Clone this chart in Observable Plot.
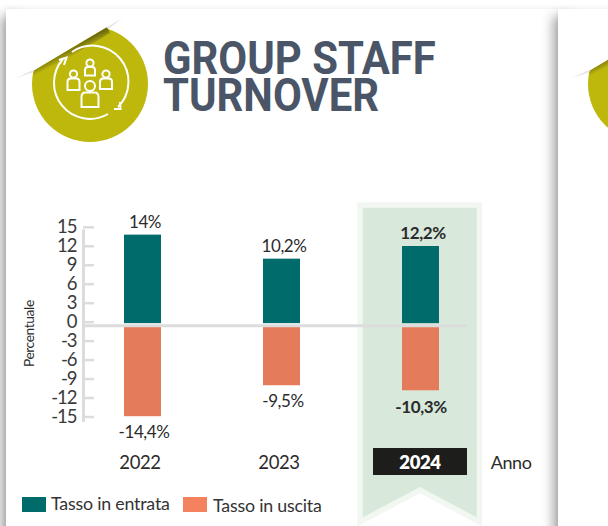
<!DOCTYPE html>
<html><head><meta charset="utf-8">
<script src="https://cdn.jsdelivr.net/npm/d3@7"></script>
<script src="https://cdn.jsdelivr.net/npm/@observablehq/plot@0.6"></script>
<style>
html,body{margin:0;padding:0;background:#fff;width:608px;height:526px;overflow:hidden;font-family:Lato,sans-serif;color:#2a2a2a}
#page{position:relative;width:608px;height:526px;overflow:hidden;background:#fff}
.edge{position:absolute;top:16px;height:560px;width:20px;box-shadow:-5px 0 12px rgba(0,0,0,.34)}
.card{position:absolute;top:9px;height:560px;background:#fff;box-shadow:0 -1px 5px rgba(0,0,0,.07)}
#deco,#chart{position:absolute;left:0;top:0}
#chart svg{display:block;background:transparent;overflow:visible}
#chart g[aria-label="y-axis tick label"] text{letter-spacing:-1px}
#chart g[aria-label="text"] text{letter-spacing:-.4px}
#title{position:absolute;left:163px;top:39.500px;font:700 46px/37.500px Roboto,sans-serif;color:#4a5567;margin:0;transform:scaleX(.91);transform-origin:0 0;white-space:nowrap}
.leg{position:absolute;white-space:nowrap;font-size:17.800px;color:#333;letter-spacing:-.2px}
.sw{position:absolute;width:24px;height:15px}
</style></head><body>
<div id="page">
<div class="edge" style="left:6px"></div>
<div class="card" style="left:6px;width:552px"></div>
<div class="edge" style="left:558px"></div>
<div class="card" style="left:558px;width:300px"></div>
<svg id="deco" width="608" height="526" viewBox="0 0 608 526">
<defs>
<clipPath id="cut"><path d="M0 96 L33 71 L107 27 L230 -40 L230 200 L0 200Z"/></clipPath>
<linearGradient id="fold" gradientUnits="userSpaceOnUse" x1="70" y1="48" x2="74" y2="56"><stop offset="0" stop-color="#6e6a10"/><stop offset="1" stop-color="#bfb80c"/></linearGradient>
<g id="sticker">
<circle cx="90" cy="84" r="58" fill="#bfb80c" clip-path="url(#cut)"/>
<path d="M33 71 L107 27 L110 33 L34 79Z" fill="url(#fold)" clip-path="url(#cut)"/>
<path d="M16 78 L33 70 L34 72Z M107 27 L123 18 L108 29Z" fill="#e4e4e4"/>
</g>
</defs>
<use href="#sticker"/><use href="#sticker" x="556"/>
<g fill="none" stroke="#fff" stroke-width="2">
<path d="M72 52 A36 36 0 0 1 118 107 M108 114 A36 36 0 0 1 63 59"/>
<path d="M59 60 L66.500 57.500 L64 65 M114 109 L120.500 109 L120 102"/>
<circle cx="90" cy="63" r="3.600"/><path d="M85 75.500V70q0-3 3-3h4q3 0 3 3v5.500z"/>
<circle cx="73.500" cy="74" r="3.600"/><path d="M67.500 90V82q0-3.500 3-3.500h6q3 0 3 3.500v8z"/>
<circle cx="106" cy="74" r="3.600"/><path d="M100 89V82q0-3.500 3-3.500h6q3 0 3 3.500v7z"/>
<circle cx="90" cy="86" r="5" fill="#bfb80c"/><path d="M81.500 107V97q0-4.500 4-4.500h9q4 0 4 4.500v10z" fill="#bfb80c"/>
</g>
<path d="M360 205 H479.500 V522 L420 490 L360 522Z" fill="#d8e9dc" stroke="#f2f7f2" stroke-width="5.500"/>
<rect x="373" y="448" width="94" height="27" fill="#1d1d1b"/>
</svg>
<div id="chart"></div>
<h1 id="title">GROUP STAFF<br>TURNOVER</h1>
<div class="sw" style="left:22px;top:497px;background:#006b6b"></div>
<div class="leg" style="left:51px;top:492px">Tasso in entrata</div>
<div class="sw" style="left:183px;top:497px;background:#f4825f"></div>
<div class="leg" style="left:213px;top:494px">Tasso in uscita</div>
</div>
<script>
const years = ["2022", "2023", "2024"];
const entrata = [14, 10.2, 12.2];
const uscita = [-14.4, -9.5, -10.3];
const yTicks = [15, 12, 9, 6, 3, 0, -3, -6, -9, -12, -15];
const highlightYear = "2024";
const axisNameX = "Anno";
const axisNameY = "Percentuale";

const fmt = v => String(v).replace(".", ",") + "%";
const inRows = years.map((year, i) => ({year, value: entrata[i]}));
const outRows = years.map((year, i) => ({year, value: uscita[i]}));
const plain = r => r.year !== highlightYear;
const strong = r => r.year === highlightYear;
const ink = "#2b2b2b", axisGrey = "#dcdcdc";
const fam = "Lato, sans-serif";

const chart = Plot.plot({
  width: 608, height: 526,
  marginTop: 230.3, marginBottom: 106, marginLeft: 83, marginRight: 141,
  style: {background: "transparent", fontFamily: fam},
  x: {type: "band", domain: years, range: [73, 490], paddingInner: 0.734, paddingOuter: 0.367, round: false, label: null},
  y: {domain: [-15, 15], label: null},
  marks: [
    Plot.frame({anchor: "left", stroke: axisGrey, strokeWidth: 3}),
    Plot.axisY({ticks: yTicks, tickFormat: d => String(d), tickSize: -11, tickPadding: 18, stroke: axisGrey, strokeWidth: 2.5, textStroke: "none", fill: "#3a3a3a", fontSize: 18.5, fontWeight: 400, label: null, dy: -3.5}),
    Plot.axisX({ticks: [], label: null}),
    Plot.barY(inRows, {x: "year", y: "value", fill: "#006b6b", dy: -2}),
    Plot.barY(outRows, {x: "year", y: "value", fill: "#e47b5b"}),
    Plot.ruleY([0], {stroke: axisGrey, strokeWidth: 3}),
    Plot.text(inRows.filter(plain), {x: "year", y: "value", text: d => fmt(d.value), dx: 2, dy: -15, fill: ink, fontSize: 17}),
    Plot.text(outRows.filter(plain), {x: "year", y: "value", text: d => fmt(d.value), dx: 1, dy: 15.5, fill: ink, fontSize: 17}),
    Plot.text(inRows.filter(strong), {x: "year", y: "value", text: d => fmt(d.value), dx: 2, dy: -15, fill: ink, fontSize: 17, fontWeight: 700}),
    Plot.text(outRows.filter(strong), {x: "year", y: "value", text: d => fmt(d.value), dy: 16.5, fill: ink, fontSize: 17, fontWeight: 700}),
    Plot.text(years.filter(y => y !== highlightYear), {x: d => d, frameAnchor: "bottom", dx: -3, dy: 48, fill: ink, fontSize: 18.5}),
    Plot.text([highlightYear], {x: d => d, frameAnchor: "bottom", dx: -1, dy: 48, fill: "#fff", fontSize: 18.5, fontWeight: 800}),
    Plot.text([axisNameX], {frameAnchor: "bottom-right", dx: 64, dy: 48, fill: ink, fontSize: 18, textAnchor: "end"}),
    Plot.text([axisNameY], {frameAnchor: "left", textAnchor: "middle", dx: -54, dy: 8, rotate: -90, fill: ink, fontSize: 13.8})
  ]
});
document.getElementById("chart").append(chart);
</script>
</body></html>
